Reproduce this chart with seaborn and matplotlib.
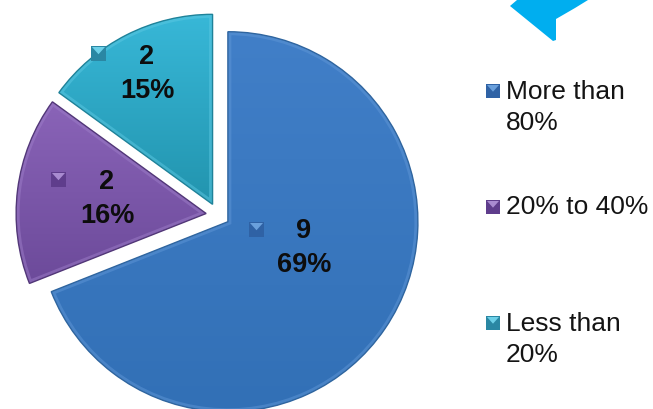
import numpy as np
import matplotlib
matplotlib.use("Agg")
import matplotlib.pyplot as plt
import seaborn as sns
from matplotlib.patches import Polygon, Rectangle, Wedge

# values
categories = ["More than\n80%", "20% to 40%", "Less than\n20%"]
counts = [9, 2, 2]
percents = [69, 16, 15]

# light (top) to dark (bottom) per slice
slice_colors = [("#417fc8", "#3270b6"), ("#8a64b8", "#6c4a9a"), ("#38b8d8", "#2294ae")]
edge_colors = ["#2f659f", "#523778", "#1f8299"]
bevel_colors = ["#5f96d6", "#9d7dc8", "#5cc8e2"]
key_colors = [("#2f62a5", "#6aa0dc"), ("#5f3d8c", "#a98bd0"), ("#2a87a3", "#6dd0e8")]

W, H = 653, 409

sns.set_theme(style="white")
plt.rcParams["font.family"] = ["Liberation Sans", "DejaVu Sans"]


def fx(x):
    return x / W


def fy(y):
    return 1 - y / H


def draw_key(fig, x, y, size, colors):
    dark, light = colors
    fig.add_artist(Rectangle((fx(x), fy(y + size)), size / W, size / H,
                             transform=fig.transFigure, fc=dark, ec="none"))
    tri = [(fx(x + 1), fy(y + 1)), (fx(x + size - 1), fy(y + 1)),
           (fx(x + size / 2), fy(y + size * 0.55))]
    fig.add_artist(Polygon(tri, closed=True, transform=fig.transFigure, fc=light, ec="none"))


fig = plt.figure(figsize=(W / 100, H / 100), dpi=100, facecolor="white")

# pie centre (218, 215), radius 190 px, axes spans +-1.2 radii
span = 228
ax = fig.add_axes([fx(218 - span), fy(215 + span), 2 * span / W, 2 * span / H])

wedges, _ = ax.pie(percents, startangle=90, counterclock=False,
                   explode=[0.063, 0.063, 0.063], radius=1.0)

grid = np.linspace(0, 1, 256).reshape(-1, 1)
for wedge, pair, edge, bevel in zip(wedges, slice_colors, edge_colors, bevel_colors):
    cmap = sns.blend_palette(list(pair), as_cmap=True)
    box = wedge.get_path().transformed(wedge.get_patch_transform()).get_extents()
    wedge.set_facecolor("none")
    wedge.set_edgecolor("none")
    img = ax.imshow(grid, cmap=cmap, origin="upper", aspect="auto", zorder=1,
                    extent=(box.x0, box.x1, box.y0, box.y1))
    img.set_clip_path(wedge)
    # bevel: faint inner rim then dark outline
    rim = Wedge(wedge.center, wedge.r, wedge.theta1, wedge.theta2,
                fc="none", ec=bevel, lw=5, alpha=0.5, zorder=2)
    ax.add_patch(rim)
    rim.set_clip_path(rim.get_path(), rim.get_transform())
    outline = Wedge(wedge.center, wedge.r, wedge.theta1, wedge.theta2,
                    fc="none", ec=edge, lw=1.0, zorder=3)
    ax.add_patch(outline)

ax.set_xlim(-1.2, 1.2)
ax.set_ylim(-1.2, 1.2)
ax.set_axis_off()

# slice labels
label_pos = [(304, 248), (107, 199), (147, 74)]
for (x, y), n, p in zip(label_pos, counts, percents):
    fig.text(fx(x), fy(y), f"{n}\n{p}%", ha="center", va="center", fontsize=19.5,
             fontweight="bold", color="#0d0d0d", linespacing=1.36)

# little keys on the slices
on_slice = [(249, 222), (51, 172), (91, 46)]
for (x, y), colors in zip(on_slice, key_colors):
    draw_key(fig, x, y, 15, colors)

# legend
key_pos = [(486, 84), (486, 200), (486, 316)]
text_pos = [(506, 80), (506, 195), (506, 312)]
for (kx, ky), (tx, ty), name, colors in zip(key_pos, text_pos, categories, key_colors):
    draw_key(fig, kx, ky, 14, colors)
    fig.text(fx(tx), fy(ty), name, ha="left", va="top", fontsize=19,
             color="#141414", linespacing=1.36)

# callout tip cut off by the top edge
tip = [(510, 6), (517, 0), (588, 0), (575, 8), (556, 19), (556, 40), (553, 41)]
fig.add_artist(Polygon([(fx(x), fy(y)) for x, y in tip], closed=True,
                       transform=fig.transFigure, fc="#00aeef", ec="none"))

fig.savefig("out.png", dpi=100)
plt.close(fig)
